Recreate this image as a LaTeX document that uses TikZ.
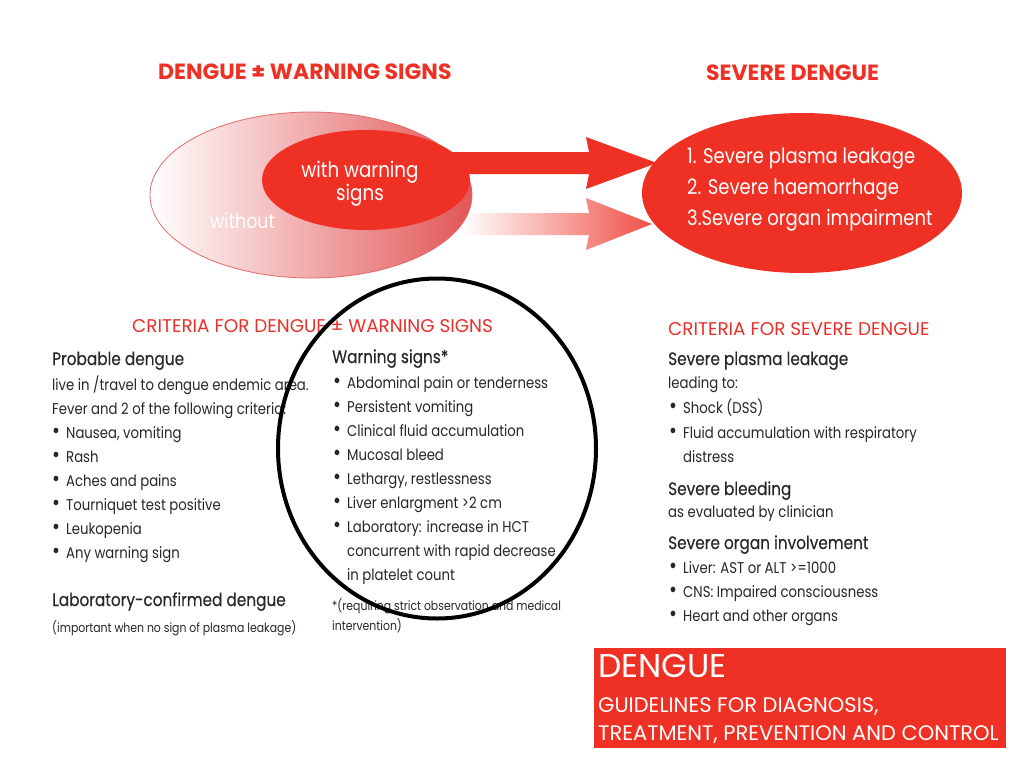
\documentclass[tikz,border=0pt]{standalone}
\usepackage{fontspec}
\setmainfont{Poppins}[FakeStretch=0.85]
\newfontfamily\wide{Poppins}
\newfontfamily\hdfont{Poppins}[FakeStretch=0.85, FakeBold=0.25]
\usetikzlibrary{shapes.geometric}
\definecolor{dred}{HTML}{EE3124}
\definecolor{tred}{HTML}{E8302A}
\definecolor{ink}{HTML}{2A2526}
\definecolor{pinkedge}{HTML}{E46A6A}
\definecolor{fadered}{HTML}{E25656}
\newcommand{\bul}{\makebox[14pt][l]{\raisebox{-0.6pt}{\scalebox{1.45}{•}}}}
\begin{document}
\begin{tikzpicture}[x=1pt,y=-1pt,
  txt/.style={anchor=base west, inner sep=0pt, text=ink, font=\fontsize{15.6}{18}\selectfont},
  hd/.style={anchor=base west, inner sep=0pt, text=ink, font=\hdfont\fontsize{18}{22}\selectfont},
  sm/.style={anchor=base west, inner sep=0pt, text=ink, font=\fontsize{12.8}{15}\selectfont},
  crit/.style={anchor=base west, inner sep=0pt, text=tred, font=\wide\fontsize{18.4}{20}\selectfont},
  ttl/.style={anchor=base west, inner sep=0pt, text=dred, font=\wide\bfseries\fontsize{22}{24}\selectfont},
  wht/.style={anchor=base west, inner sep=0pt, text=white, font=\fontsize{21.2}{26}\selectfont},
  wbox/.style={anchor=base west, inner sep=0pt, text=white, font=\wide\fontsize{21}{25}\selectfont}
]
\useasboundingbox (0,0) rectangle (1024,768);
\fill[white] (0,0) rectangle (1024,768);

% titles
\node[ttl] (t1) at (158,79) {DENGUE ± WARNING SIGNS};
\node[ttl] (t2) at (706,80) {SEVERE DENGUE};

% arrows (under ellipses)
\fill[dred] (440,152) -- (589,152) -- (586,137) -- (657,163) -- (586,189) -- (589,174) -- (440,174) -- cycle;
\shade[left color=white, right color=dred!85!white] (462,213) -- (589,213) -- (586,198) -- (652,224) -- (586,250) -- (589,235) -- (462,235) -- cycle;

% left ellipses
\node[ellipse, draw=pinkedge, line width=0.8pt, left color=white, right color=fadered,
      minimum width=322pt, minimum height=166pt, inner sep=0pt] (outer) at (311,195) {};
\node[ellipse, fill=dred, minimum width=208pt, minimum height=100pt, inner sep=0pt] (inner) at (366,180) {};
\node[anchor=base, inner sep=0pt, text=white, font=\fontsize{21.5}{26}\selectfont] (ww1) at (360,177) {with warning};
\node[anchor=base, inner sep=0pt, text=white, font=\fontsize{21.5}{26}\selectfont] (ww2) at (360,200) {signs};
\node[anchor=base west, inner sep=0pt, text=white, font=\fontsize{20.5}{22}\selectfont] (wo) at (210,228) {without};

% right ellipse
\node[ellipse, fill=dred, minimum width=320pt, minimum height=160pt, inner sep=0pt] (sev) at (802,193) {};
\node[wht] (s1) at (687,163) {1. Severe plasma leakage};
\node[wht] (s2) at (687,194) {2. Severe haemorrhage};
\node[wht] (s3) at (687,225) {3.Severe organ impairment};

% criteria headings
\node[crit] (c1) at (132,332) {CRITERIA FOR DENGUE ± WARNING SIGNS};
\node[crit] (c2) at (668,335) {CRITERIA FOR SEVERE DENGUE};

% left column
\node[hd]  (l1) at (52,365) {Probable dengue};
\node[txt] (l2) at (52,390) {live in /travel to dengue endemic area.};
\node[txt] (l3) at (52,414) {Fever and 2 of the following criteria:};
\node[txt] (l4) at (52,438) {\bul Nausea, vomiting};
\node[txt] (l5) at (52,462) {\bul Rash};
\node[txt] (l6) at (52,486) {\bul Aches and pains};
\node[txt] (l7) at (52,510) {\bul Tourniquet test positive};
\node[txt] (l8) at (52,534) {\bul Leukopenia};
\node[txt] (l9) at (52,558) {\bul Any warning sign};
\node[hd]  (l10) at (52,606) {Laboratory-confirmed dengue};
\node[sm]  (l11) at (52,632) {(important when no sign of plasma leakage)};

% middle column
\node[hd]  (m1) at (332,363) {Warning signs*};
\node[txt] (m2) at (333,388) {\bul Abdominal pain or tenderness};
\node[txt] (m3) at (333,412) {\bul Persistent vomiting};
\node[txt] (m4) at (333,436) {\bul Clinical fluid accumulation};
\node[txt] (m5) at (333,460) {\bul Mucosal bleed};
\node[txt] (m6) at (333,484) {\bul Lethargy, restlessness};
\node[txt] (m7) at (333,508) {\bul Liver enlargment >2 cm};
\node[txt] (m8) at (333,532) {\bul Laboratory: increase in HCT};
\node[txt] (m9) at (347,556) {concurrent with rapid decrease};
\node[txt] (m10) at (347,580) {in platelet count};
\node[sm]  (m11) at (332,610) {*(requiring strict observation and medical};
\node[sm]  (m12) at (332,630) {intervention)};

% right column
\node[hd]  (r1) at (668,365) {Severe plasma leakage};
\node[txt] (r2) at (668,388) {leading to:};
\node[txt] (r3) at (669,413) {\bul Shock (DSS)};
\node[txt] (r4) at (669,438) {\bul Fluid accumulation with respiratory};
\node[txt] (r5) at (683,462) {distress};
\node[hd]  (r6) at (668,495) {Severe bleeding};
\node[txt] (r7) at (668,517) {as evaluated by clinician};
\node[hd]  (r8) at (668,549) {Severe organ involvement};
\node[txt] (r9) at (669,573) {\bul Liver: AST or ALT >=1000};
\node[txt] (r10) at (669,597) {\bul CNS: Impaired consciousness};
\node[txt] (r11) at (669,621) {\bul Heart and other organs};

% black circle
\node[ellipse, draw=black, line width=4pt, minimum width=318pt, minimum height=340pt, inner sep=0pt] (circ) at (437,448.5) {};

% bottom box
\node[fill=dred, minimum width=412pt, minimum height=100pt, inner sep=0pt, anchor=north west] (box) at (594,648) {};
\node[anchor=base west, inner sep=0pt, text=white, font=\wide\fontsize{33}{36}\selectfont] (b1) at (598,677) {DENGUE};
\node[wbox] (b2) at (598,712) {GUIDELINES FOR DIAGNOSIS,};
\node[wbox] (b3) at (598,740) {TREATMENT, PREVENTION AND CONTROL};
\end{tikzpicture}
\end{document}
